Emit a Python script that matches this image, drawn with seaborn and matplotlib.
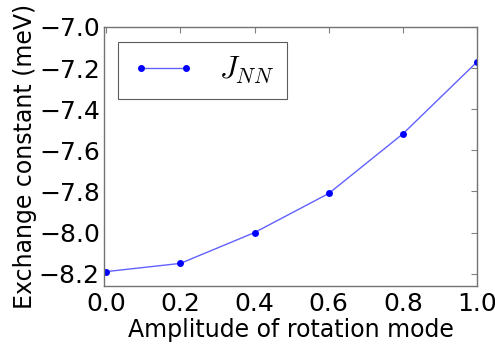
import matplotlib
matplotlib.use("Agg")
import matplotlib.pyplot as plt
from matplotlib.legend_handler import HandlerLine2D
import seaborn as sns
import pandas as pd

amplitude = [0.0, 0.2, 0.4, 0.6, 0.8, 1.0]
j_nn = [-8.19, -8.15, -8.00, -7.81, -7.52, -7.17]
y_ticks = [-8.2, -8.0, -7.8, -7.6, -7.4, -7.2, -7.0]
x_ticks = [0.0, 0.2, 0.4, 0.6, 0.8, 1.0]

sns.set_style("white")
plt.rcParams["font.family"] = ["DejaVu Sans"]
plt.rcParams["mathtext.fontset"] = "cm"
plt.rcParams["text.color"] = "black"
plt.rcParams["axes.labelcolor"] = "black"
plt.rcParams["xtick.color"] = "black"
plt.rcParams["ytick.color"] = "black"

df = pd.DataFrame({"amp": amplitude, "J": j_nn, "series": r"$J_{NN}$"})

fig = plt.figure(figsize=(4.95, 3.46), dpi=100)
ax = fig.add_axes([104 / 495, 1 - 286 / 346, (477 - 104) / 495, (286 - 27) / 346])

sns.lineplot(data=df, x="amp", y="J", hue="series", palette=["blue"],
             marker="o", markersize=5, markeredgewidth=0, linewidth=1,
             ax=ax, legend=False)
line = ax.lines[0]
line.set_alpha(1.0)
line.set_color((0.38, 0.38, 1.0))
line.set_markerfacecolor("blue")
line.set_markeredgecolor("blue")

ax.set_xlim(-0.006, 1.0)
ax.set_ylim(-8.26, -7.0)
ax.set_xticks(x_ticks)
ax.set_yticks(y_ticks)
ax.set_xticklabels([f"{v:.1f}" for v in x_ticks])
ax.set_yticklabels([f"{v:.1f}".replace("-", "\u2212") for v in y_ticks])
ax.tick_params(direction="in", length=4, width=0.8, color="0.5",
               top=True, right=True, labelsize=18)
ax.tick_params(axis="y", pad=3)
ax.tick_params(axis="x", pad=4)
for s in ax.spines.values():
    s.set_color("0.45")
    s.set_linewidth(1.0)
ax.set_xlabel("Amplitude of rotation mode", fontsize=17, labelpad=2)
ax.set_ylabel("Exchange constant (meV)", fontsize=17, labelpad=1)

leg = ax.legend([line], [r"$J_{NN}$"], loc="upper left", fontsize=22,
                frameon=True, fancybox=False,
                handler_map={line: HandlerLine2D(numpoints=2, marker_pad=0.33)},
                handlelength=2.13, handletextpad=0.75, borderpad=0.42,
                borderaxespad=0, bbox_to_anchor=(0.0375, 0.942))
leg.get_frame().set_edgecolor("0.2")
leg.get_frame().set_linewidth(0.8)

fig.savefig("out.png", dpi=100)
